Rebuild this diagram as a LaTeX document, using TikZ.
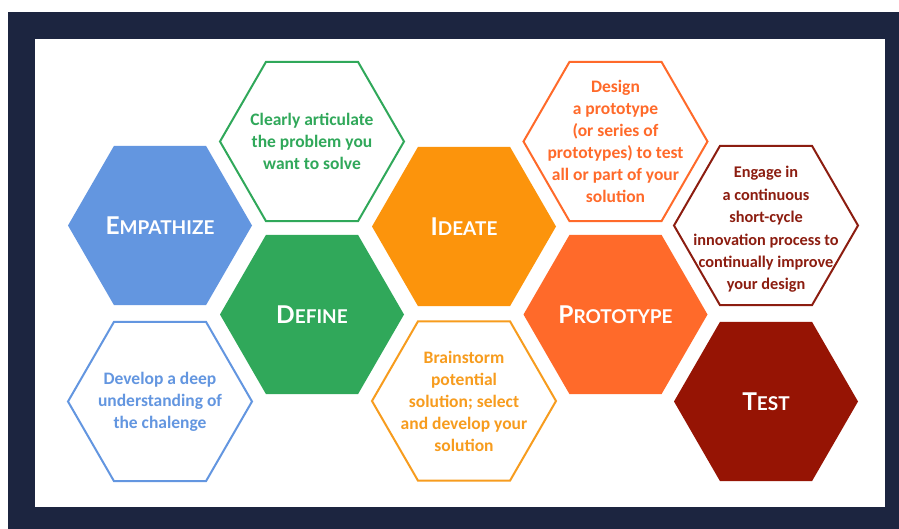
\documentclass[tikz,border=0pt]{standalone}
\usepackage{fontspec}
\setmainfont{Carlito}
\newfontfamily\headfont{Lato}
\usepackage{tikz}
\usetikzlibrary{shapes.geometric}

\definecolor{navy}{HTML}{1C2540}
\definecolor{empblue}{HTML}{6396E0}
\definecolor{defgreen}{HTML}{30A85A}
\definecolor{ideorange}{HTML}{FC940C}
\definecolor{proorange}{HTML}{FF6A2A}
\definecolor{testred}{HTML}{961404}
\definecolor{engred}{HTML}{8C1D10}
\definecolor{brnorange}{HTML}{F79C1E}

% fake small caps for the headings
\newcommand{\hexhead}[2]{{\fontsize{24.5}{24.5}\selectfont #1}{\fontsize{19}{19}\selectfont #2}}

\begin{document}
\begin{tikzpicture}[
    x=1pt, y=-1pt,              % pixel-like units, y going down
    ]
% -------------------------------------------------
\tikzset{
  hex/.style={regular polygon, regular polygon sides=6,
    minimum size=184pt, inner sep=0pt, outer sep=0pt},
  full/.style={hex, fill=#1},
  ring/.style={hex, draw=#1, line width=2pt, fill=white},
  head/.style={text=white, font=\headfont\bfseries},
  body/.style={text=#1, align=center, font=\bfseries\fontsize{17.5}{22}\selectfont}
}
% -------------------------------------------------
% Frame
\fill[white] (0,0) rectangle (899,529);
\fill[navy] (8,12) rectangle (899,529);
\fill[white] (35,39) rectangle (885,507);

% -------------------------------------------------
% Placing the filled hexagons
\node[full=empblue]   (f0) at (160,225.5) {};
\node[full=defgreen]  (f1) at (312,314.5) {};
\node[full=ideorange] (f2) at (464,226.5) {};
\node[full=proorange] (f3) at (615.5,314.5) {};
\node[full=testred]   (f4) at (766,401.5) {};

% Placing the outlined hexagons
\node[ring=empblue]   (o0) at (160,401.5) {};
\node[ring=defgreen]  (o1) at (312,141.5) {};
\node[ring=brnorange] (o2) at (464,401) {};
\node[ring=proorange] (o3) at (615.5,141.5) {};
\node[ring=engred]    (o4) at (766,225.5) {};

% -------------------------------------------------
% Headings
\node[head] (h0) at (f0.center) {\hexhead{E}{MPATHIZE}};
\node[head] (h1) at (f1.center) {\hexhead{D}{EFINE}};
\node[head] (h2) at (f2.center) {\hexhead{I}{DEATE}};
\node[head] (h3) at (f3.center) {\hexhead{P}{ROTOTYPE}};
\node[head] (h4) at (f4.center) {\hexhead{T}{EST}};

% Descriptions
\node[body=empblue]   (t0) at (o0.center) {Develop a deep\\understanding of\\the chalenge};
\node[body=defgreen]  (t1) at (o1.center) {Clearly articulate\\the problem you\\want to solve};
\node[body=brnorange] (t2) at (o2.center) {Brainstorm\\potential\\solution; select\\and develop your\\solution};
\node[body=proorange] (t3) at (o3.center) {Design\\a prototype\\(or series of\\prototypes) to test\\all or part of your\\solution};
\node[body=engred, font=\bfseries\fontsize{16.3}{22.4}\selectfont] (t4) at ([yshift=-4]o4.center)
  {Engage in\\a continuous\\short-cycle\\innovation process to\\continually improve\\your design};

\end{tikzpicture}
\end{document}
